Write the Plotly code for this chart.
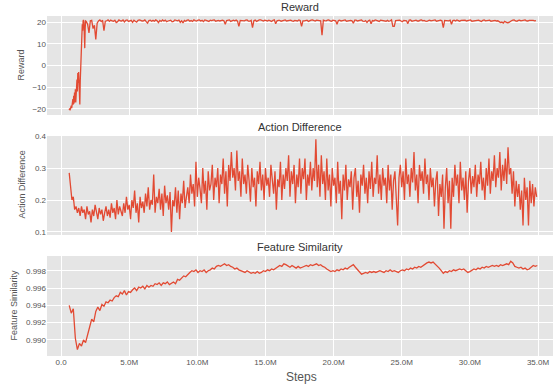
import plotly.graph_objects as go

# ---------------- data (steps in millions) ----------------
reward_early_steps = [0.60, 0.63, 0.66, 0.69, 0.72, 0.75, 0.78, 0.81, 0.84, 0.87,
                      0.90, 0.93, 0.96, 0.99, 1.02, 1.05, 1.08, 1.11, 1.14, 1.17,
                      1.20, 1.23, 1.26, 1.29, 1.32, 1.35, 1.38, 1.41, 1.44, 1.47,
                      1.50, 1.53, 1.56, 1.59, 1.62, 1.65, 1.68, 1.71, 1.74, 1.77, 1.80]
reward_early = [-20.5, -19.8, -20.7, -19.0, -20.2, -18.5, -19.6, -17.0, -19.0, -15.5,
                -18.0, -14.0, -17.5, -12.5, -16.8, -11.0, -17.0, -9.0, -14.0, -6.5,
                -12.0, -3.5, -8.0, -3.0, -9.0, -4.0, -18.0, -7.0, 2.0, -4.0,
                8.0, 14.0, 19.0, 16.0, 20.5, 21.0, 20.0, 13.0, 8.0, 17.0, 20.5]

reward_late_start = 1.85
reward_late_step = 0.1
reward_late = [20.3, 19.0, 15.0, 20.6, 20.8, 17.0, 18.5, 12.0, 19.5, 20.5,
               21.0, 20.2, 20.8, 16.0, 20.4, 20.6, 21.0, 20.3, 20.9, 20.5,
               20.4, 20.9, 19.8, 20.2, 21.0, 20.6, 20.5, 21.0, 20.1, 20.8,
               21.0, 20.3, 20.7, 20.8, 19.9, 20.9, 20.4, 20.0, 20.8, 21.0,
               20.8, 20.5, 20.6, 21.0, 20.2, 19.5, 20.7, 20.9, 20.4, 20.8,
               20.4, 21.0, 20.6, 19.8, 20.8, 20.3, 21.0, 20.5, 20.9, 20.2,
               20.5, 20.8, 20.9, 20.1, 20.3, 21.0, 20.7, 20.6, 20.9, 19.9,
               20.6, 19.6, 20.8, 20.4, 20.9, 21.0, 20.4, 20.7, 20.3, 21.0,
               20.7, 20.5, 20.9, 21.0, 20.5, 20.8, 20.2, 21.0, 20.8, 20.6,
               20.3, 20.9, 20.7, 20.9, 21.0, 20.4, 20.6, 20.8, 20.5, 20.9,
               20.9, 20.6, 19.0, 20.7, 20.7, 21.0, 20.3, 20.5, 20.9, 20.6,
               20.9, 20.4, 18.0, 20.8, 20.8, 20.5, 20.6, 20.9, 21.0, 20.4,
               20.4, 20.8, 17.5, 20.6, 20.9, 20.3, 20.7, 21.0, 21.0, 20.6,
               20.5, 20.9, 20.8, 20.5, 20.9, 20.7, 20.3, 20.8, 21.0, 19.2,
               20.6, 20.8, 20.8, 20.4, 20.6, 21.0, 21.0, 20.5, 20.7, 20.9,
               20.9, 20.6, 20.4, 20.8, 20.8, 20.5, 21.0, 20.7, 18.0, 20.6,
               20.6, 20.8, 20.9, 20.3, 20.7, 20.9, 21.0, 20.6, 20.5, 20.9,
               20.8, 20.4, 20.6, 14.0, 20.9, 20.7, 20.6, 20.9, 21.0, 20.5,
               20.4, 20.9, 20.8, 20.6, 19.0, 20.7, 20.9, 20.5, 20.7, 21.0,
               21.0, 20.4, 20.5, 20.8, 20.8, 20.6, 19.5, 20.9, 20.9, 20.5,
               20.6, 20.9, 21.0, 20.4, 20.3, 20.7, 19.8, 20.6, 20.9, 19.2,
               20.7, 20.5, 21.0, 20.8, 20.5, 20.3, 20.9, 20.7, 20.8, 20.6,
               20.4, 20.8, 20.4, 20.6, 21.0, 18.0, 18.0, 20.7, 20.7, 20.9,
               20.9, 20.5, 20.2, 20.8, 20.8, 20.6, 19.3, 20.9, 21.0, 20.4,
               20.6, 20.8, 20.9, 20.5, 20.5, 20.9, 21.0, 20.6, 20.8, 20.4,
               20.3, 20.7, 20.9, 20.6, 20.7, 21.0, 21.0, 20.4, 20.5, 20.8,
               20.9, 20.6, 17.5, 20.8, 20.8, 20.5, 20.6, 20.9, 19.0, 20.7,
               20.9, 20.5, 21.0, 20.7, 20.4, 20.8, 20.8, 20.6, 20.9, 20.5,
               20.6, 20.9, 21.0, 20.4, 20.5, 20.7, 20.8, 20.6, 20.9, 20.5,
               20.3, 20.8, 21.0, 20.6, 20.7, 20.9, 20.9, 20.4, 20.5, 20.8,
               20.8, 20.5, 20.6, 20.2, 19.8, 20.0, 19.5, 20.3, 20.0, 19.7,
               19.8, 20.4, 20.6, 20.9, 21.0, 20.5, 20.4, 20.8, 20.9, 20.6,
               20.7, 20.9, 21.0, 20.6, 20.5, 20.8, 20.9, 20.7, 20.8, 20.6, 20.7]

ad_start = 0.6
ad_step = 0.1
action_diff = [0.285, 0.24, 0.20, 0.21, 0.17, 0.18, 0.16, 0.175, 0.15, 0.18,
               0.16, 0.17, 0.14, 0.18, 0.155, 0.165, 0.13, 0.17, 0.15, 0.185,
               0.16, 0.14, 0.175, 0.155, 0.17, 0.135, 0.16, 0.18, 0.15, 0.17,
               0.145, 0.19, 0.16, 0.175, 0.14, 0.20, 0.155, 0.18, 0.165, 0.15,
               0.19, 0.16, 0.21, 0.17, 0.185, 0.14, 0.20, 0.175, 0.23, 0.16,
               0.19, 0.13, 0.21, 0.175, 0.195, 0.16, 0.22, 0.18, 0.24, 0.17,
               0.20, 0.185, 0.28, 0.16, 0.21, 0.19, 0.235, 0.17, 0.22, 0.15,
               0.245, 0.19, 0.215, 0.17, 0.225, 0.10, 0.20, 0.18, 0.24, 0.16,
               0.23, 0.14, 0.22, 0.19, 0.26, 0.175, 0.21, 0.24, 0.19, 0.28,
               0.22, 0.25, 0.18, 0.32, 0.21, 0.27, 0.235, 0.19, 0.30, 0.22,
               0.26, 0.17, 0.29, 0.23, 0.25, 0.31, 0.20, 0.27, 0.24, 0.30,
               0.19, 0.28, 0.25, 0.33, 0.22, 0.29, 0.18, 0.31, 0.26, 0.35,
               0.27, 0.30, 0.23, 0.355, 0.26, 0.29, 0.21, 0.33, 0.25, 0.28,
               0.22, 0.31, 0.26, 0.195, 0.30, 0.24, 0.27, 0.18, 0.29, 0.25,
               0.32, 0.23, 0.28, 0.20, 0.30, 0.245, 0.27, 0.21, 0.31, 0.25,
               0.22, 0.29, 0.17, 0.265, 0.24, 0.32, 0.20, 0.28, 0.235, 0.30,
               0.26, 0.34, 0.21, 0.29, 0.25, 0.31, 0.19, 0.28, 0.24, 0.33,
               0.22, 0.30, 0.265, 0.33, 0.20, 0.28, 0.245, 0.32, 0.23, 0.30,
               0.26, 0.39, 0.24, 0.31, 0.21, 0.34, 0.25, 0.29, 0.20, 0.33,
               0.23, 0.28, 0.18, 0.30, 0.245, 0.27, 0.19, 0.32, 0.22, 0.26,
               0.14, 0.28, 0.23, 0.31, 0.20, 0.265, 0.24, 0.29, 0.17, 0.27,
               0.30, 0.21, 0.26, 0.16, 0.28, 0.245, 0.31, 0.22, 0.27, 0.19,
               0.29, 0.235, 0.32, 0.21, 0.27, 0.25, 0.34, 0.22, 0.28, 0.20,
               0.30, 0.245, 0.27, 0.19, 0.31, 0.23, 0.28, 0.17, 0.26, 0.29,
               0.22, 0.12, 0.27, 0.31, 0.24, 0.29, 0.20, 0.33, 0.25, 0.28,
               0.21, 0.30, 0.255, 0.35, 0.23, 0.28, 0.19, 0.31, 0.26, 0.29,
               0.22, 0.33, 0.25, 0.28, 0.20, 0.30, 0.24, 0.27, 0.18, 0.26,
               0.29, 0.15, 0.25, 0.21, 0.28, 0.11, 0.24, 0.30, 0.19, 0.26,
               0.11, 0.27, 0.21, 0.31, 0.245, 0.28, 0.19, 0.32, 0.23, 0.27,
               0.20, 0.29, 0.16, 0.26, 0.30, 0.22, 0.275, 0.24, 0.31, 0.21,
               0.28, 0.25, 0.32, 0.23, 0.27, 0.20, 0.30, 0.245, 0.33, 0.22,
               0.29, 0.26, 0.34, 0.24, 0.30, 0.27, 0.35, 0.23, 0.31, 0.26,
               0.33, 0.25, 0.365, 0.28, 0.30, 0.22, 0.29, 0.18, 0.26, 0.21,
               0.25, 0.17, 0.23, 0.12, 0.27, 0.20, 0.24, 0.12, 0.26, 0.19,
               0.25, 0.18, 0.24, 0.21]

fs_start = 0.6
fs_step = 0.15
feature_sim = [0.9940, 0.9931, 0.9936, 0.9902, 0.9889, 0.9896, 0.9893, 0.9900, 0.9897, 0.9908,
               0.9915, 0.9924, 0.9921, 0.9933, 0.9938, 0.9934, 0.9941, 0.9939, 0.9944, 0.9943,
               0.9946, 0.9945, 0.9949, 0.9951, 0.9950, 0.9955, 0.9953, 0.9957, 0.9952, 0.9956,
               0.9955, 0.9958, 0.9960, 0.9957, 0.9961, 0.9960, 0.9962, 0.9959, 0.9963, 0.9961,
               0.9963, 0.9962, 0.9965, 0.9964, 0.9966, 0.9963, 0.9966, 0.9965, 0.9967, 0.9964,
               0.9966, 0.9967, 0.9965, 0.9970, 0.9969, 0.9972, 0.9974, 0.9973, 0.9976, 0.9978,
               0.9980, 0.9979, 0.9981, 0.9978, 0.9980, 0.9979, 0.9981, 0.9978, 0.9980, 0.9981,
               0.9983, 0.9982, 0.9985, 0.9986, 0.9985, 0.9987, 0.9988, 0.9986, 0.9987, 0.9985,
               0.9984, 0.9982, 0.9983, 0.9981, 0.9980, 0.9979, 0.9978, 0.9980, 0.9978, 0.9977,
               0.9978, 0.9977, 0.9979, 0.9977, 0.9978, 0.9980, 0.9979, 0.9981, 0.9980, 0.9982,
               0.9981, 0.9983, 0.9984, 0.9986, 0.9985, 0.9988, 0.9987, 0.9985, 0.9984, 0.9986,
               0.9984, 0.9983, 0.9985, 0.9983, 0.9984, 0.9985, 0.9986, 0.9985, 0.9987, 0.9986,
               0.9987, 0.9988, 0.9986, 0.9987, 0.9985, 0.9984, 0.9982, 0.9980, 0.9979, 0.9980,
               0.9979, 0.9981, 0.9980, 0.9982, 0.9981, 0.9983, 0.9982, 0.9984, 0.9986, 0.9987,
               0.9984, 0.9981, 0.9978, 0.9976, 0.9977, 0.9978, 0.9977, 0.9979, 0.9978, 0.9979,
               0.9978, 0.9979, 0.9980, 0.9979, 0.9978, 0.9980, 0.9979, 0.9981, 0.9979, 0.9980,
               0.9979, 0.9978, 0.9980, 0.9981, 0.9980, 0.9982, 0.9981, 0.9983, 0.9982, 0.9984,
               0.9983, 0.9985, 0.9984, 0.9986, 0.9988, 0.9989, 0.9990, 0.9989, 0.9990, 0.9988,
               0.9986, 0.9983, 0.9980, 0.9977, 0.9979, 0.9978, 0.9980, 0.9979, 0.9981, 0.9980,
               0.9981, 0.9982, 0.9981, 0.9982, 0.9980, 0.9978, 0.9979, 0.9981, 0.9982, 0.9981,
               0.9983, 0.9982, 0.9984, 0.9983, 0.9985, 0.9984, 0.9985, 0.9986, 0.9985, 0.9986,
               0.9985, 0.9987, 0.9986, 0.9987, 0.9988, 0.9987, 0.9991, 0.9989, 0.9985, 0.9984,
               0.9983, 0.9984, 0.9982, 0.9983, 0.9981, 0.9982, 0.9984, 0.9986, 0.9985, 0.9986]

x_tick_vals = [0, 5, 10, 15, 20, 25, 30, 35]
x_tick_text = ["0.0", "5.0M", "10.0M", "15.0M", "20.0M", "25.0M", "30.0M", "35.0M"]
titles = ["Reward", "Action Difference", "Feature Similarity"]

# ---------------- build ----------------
reward_steps = reward_early_steps + [reward_late_start + reward_late_step * i for i in range(len(reward_late))]
reward_vals = reward_early + reward_late
ad_steps = [ad_start + ad_step * i for i in range(len(action_diff))]
fs_steps = [fs_start + fs_step * i for i in range(len(feature_sim))]

LINE = "#E24A33"
BG = "#E5E5E5"
FONT = "Liberation Sans, Arial, sans-serif"
W, H = 553, 385
ML, MR, MT, MB = 47, 0, 16, 29
PW, PH = W - ML - MR, H - MT - MB

fig = go.Figure()
fig.add_trace(go.Scatter(x=reward_steps, y=reward_vals, mode="lines",
                         line=dict(color=LINE, width=1.3), xaxis="x", yaxis="y"))
fig.add_trace(go.Scatter(x=ad_steps, y=action_diff, mode="lines",
                         line=dict(color=LINE, width=1.3), xaxis="x2", yaxis="y2"))
fig.add_trace(go.Scatter(x=fs_steps, y=feature_sim, mode="lines",
                         line=dict(color=LINE, width=1.3), xaxis="x3", yaxis="y3"))


def dom(top_px, bot_px):
    return [(H - MB - bot_px) / PH, (H - MB - top_px) / PH]


xr = [-1.03, 36.1]
xcommon = dict(range=xr, tickvals=x_tick_vals, ticktext=x_tick_text, showgrid=True,
               gridcolor="white", gridwidth=1, zeroline=False, ticks="", showline=False,
               tickfont=dict(family=FONT, size=8, color="#555555"), domain=[0, 1])
ycommon = dict(showgrid=True, gridcolor="white", gridwidth=1, zeroline=False, ticks="",
               showline=False, tickfont=dict(family=FONT, size=8, color="#555555"))

fig.update_layout(
    width=W, height=H, margin=dict(l=ML, r=MR, t=MT, b=MB),
    paper_bgcolor="white", plot_bgcolor=BG, showlegend=False,
    font=dict(family=FONT),
    xaxis=dict(**xcommon, anchor="y", showticklabels=False),
    xaxis2=dict(**xcommon, anchor="y2", showticklabels=False),
    xaxis3=dict(**xcommon, anchor="y3", showticklabels=True),
    yaxis=dict(**ycommon, domain=dom(16, 115), range=[-22.8, 22.8],
               tickvals=[-20, -10, 0, 10, 20]),
    yaxis2=dict(**ycommon, domain=dom(136, 235), range=[0.0905, 0.4005],
                tickvals=[0.1, 0.2, 0.3, 0.4], tickformat=".1f"),
    yaxis3=dict(**ycommon, domain=dom(256, 356), range=[0.98815, 0.9997],
                tickvals=[0.990, 0.992, 0.994, 0.996, 0.998], tickformat=".3f"),
)


def px2x(px):
    return (px - ML) / PW


def px2y(py):
    return (H - MB - py) / PH


anns = []
for t, ty in zip(titles, [7, 127, 247]):
    anns.append(dict(text=t, x=px2x(300), y=px2y(ty), xref="paper", yref="paper",
                     showarrow=False, xanchor="center", yanchor="middle",
                     font=dict(family=FONT, size=11, color="#333333")))
for t, lx, ly in zip(titles, [20.5, 21.5, 13.5], [65, 185, 305]):
    anns.append(dict(text=t, x=px2x(lx), y=px2y(ly), xref="paper", yref="paper",
                     showarrow=False, xanchor="center", yanchor="middle", textangle=-90,
                     font=dict(family=FONT, size=9, color="#555555")))
anns.append(dict(text="Steps", x=px2x(301), y=px2y(377), xref="paper", yref="paper",
                 showarrow=False, xanchor="center", yanchor="middle",
                 font=dict(family=FONT, size=12, color="#555555")))
fig.update_layout(annotations=anns)

fig.write_html("out.html")
